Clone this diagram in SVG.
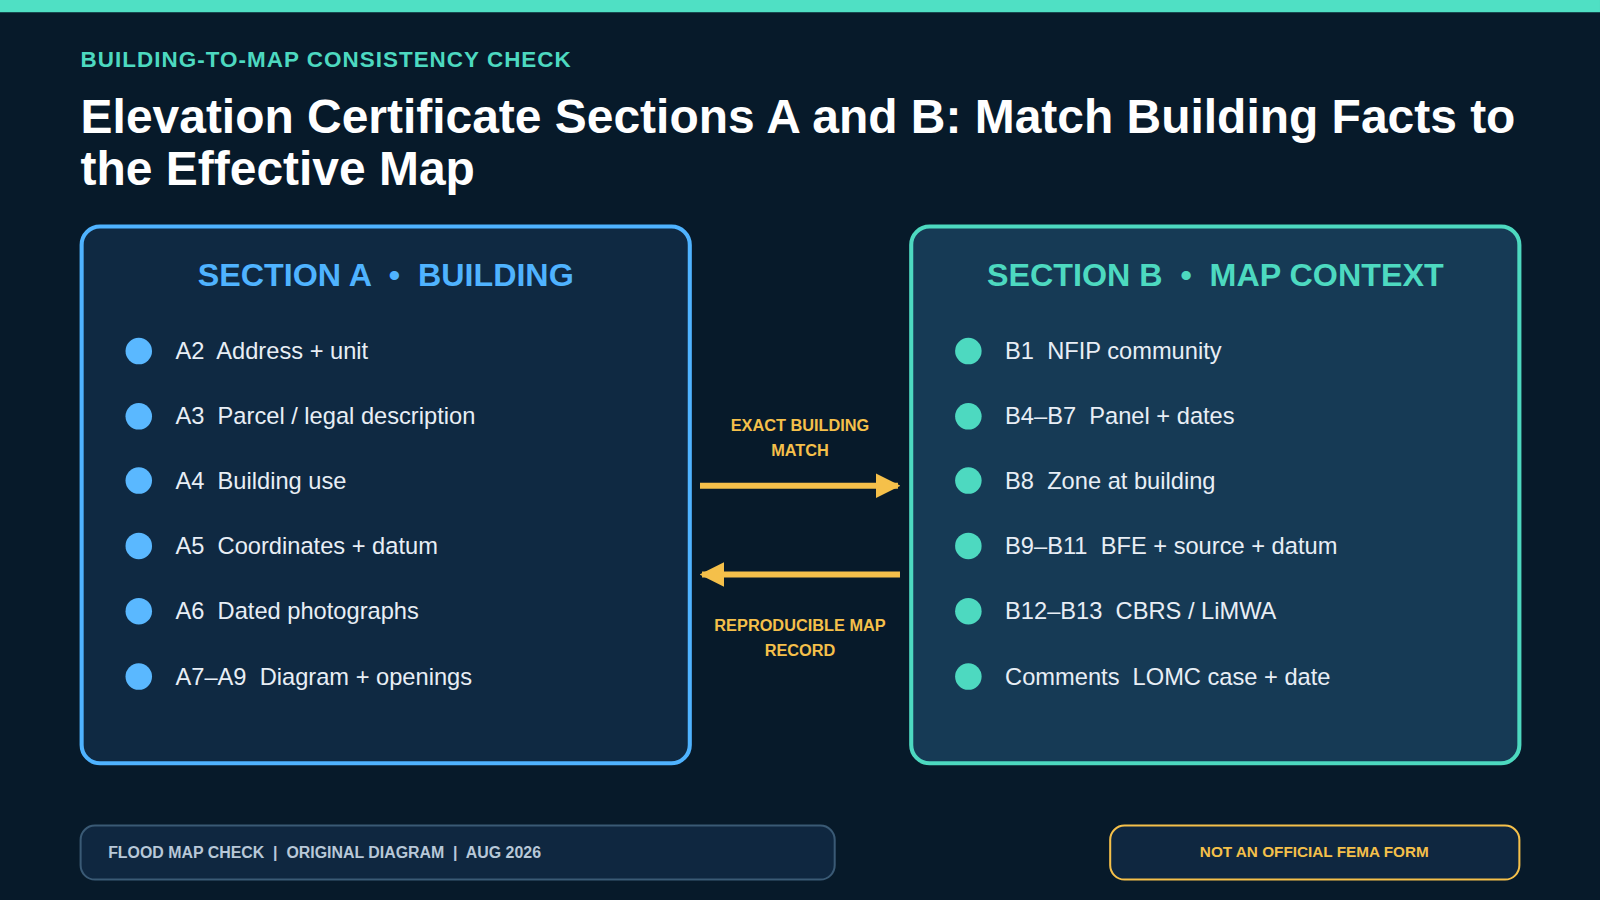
<svg xmlns="http://www.w3.org/2000/svg" width="1600" height="900" viewBox="0 0 1600 900">
<defs>
<style>
text{font-family:"Liberation Sans",Arial,sans-serif;white-space:pre}
.item{font-size:23.2px;fill:#e8eef5}
.hdr{font-size:31.6px;font-weight:bold}
.lbl{font-size:16px;font-weight:bold;fill:#f5c04a}
.foot{font-size:15.6px;font-weight:bold}
</style>
<marker id="ah" viewBox="0 0 10 10" refX="9" refY="5" markerWidth="4" markerHeight="4" orient="auto-start-reverse"><path d="M0,0 L10,5 L0,10 Z" fill="#f5c04a"/></marker>
</defs>
<rect width="1600" height="900" fill="#071a2a"/>
<g transform="scale(1.0204)" xml:space="preserve">
<rect x="0" y="0" width="1568" height="12" fill="#4fe0c4"/>
<text x="79" y="66" font-size="22" font-weight="bold" fill="#4dd9c0" letter-spacing="1">BUILDING-TO-MAP CONSISTENCY CHECK</text>
<text x="79" y="130" font-size="47" font-weight="bold" fill="#ffffff">Elevation Certificate Sections A and B: Match Building Facts to</text>
<text x="79" y="181" font-size="47" font-weight="bold" fill="#ffffff">the Effective Map</text>
<g id="sectionA">
<rect x="80" y="222" width="596" height="526" rx="18" fill="#0f2942" stroke="#4fb3ff" stroke-width="4"/>
<text x="378" y="280" text-anchor="middle" class="hdr" fill="#4fb3ff">SECTION A  •  BUILDING</text>
<g fill="#5ab8ff"><circle cx="136" cy="344" r="13"/><circle cx="136" cy="408" r="13"/><circle cx="136" cy="471" r="13"/><circle cx="136" cy="535" r="13"/><circle cx="136" cy="599" r="13"/><circle cx="136" cy="663" r="13"/></g>
<text x="172" y="352" class="item">A2  Address + unit</text>
<text x="172" y="416" class="item">A3  Parcel / legal description</text>
<text x="172" y="479" class="item">A4  Building use</text>
<text x="172" y="543" class="item">A5  Coordinates + datum</text>
<text x="172" y="607" class="item">A6  Dated photographs</text>
<text x="172" y="671" class="item">A7–A9  Diagram + openings</text>
</g>
<g id="sectionB">
<rect x="893" y="222" width="596" height="526" rx="18" fill="#163a55" stroke="#4dd9c0" stroke-width="4"/>
<text x="1191" y="280" text-anchor="middle" class="hdr" fill="#4dd9c0">SECTION B  •  MAP CONTEXT</text>
<g fill="#4dd9c0"><circle cx="949" cy="344" r="13"/><circle cx="949" cy="408" r="13"/><circle cx="949" cy="471" r="13"/><circle cx="949" cy="535" r="13"/><circle cx="949" cy="599" r="13"/><circle cx="949" cy="663" r="13"/></g>
<text x="985" y="352" class="item">B1  NFIP community</text>
<text x="985" y="416" class="item">B4–B7  Panel + dates</text>
<text x="985" y="479" class="item">B8  Zone at building</text>
<text x="985" y="543" class="item">B9–B11  BFE + source + datum</text>
<text x="985" y="607" class="item">B12–B13  CBRS / LiMWA</text>
<text x="985" y="671" class="item">Comments  LOMC case + date</text>
</g>
<g id="connectors" stroke="#f5c04a" stroke-width="6" fill="none">
<line x1="686" y1="476" x2="880" y2="476" marker-end="url(#ah)"/>
<line x1="882" y1="563" x2="688" y2="563" marker-end="url(#ah)"/>
</g>
<text x="784" y="422" text-anchor="middle" class="lbl">EXACT BUILDING</text>
<text x="784" y="447" text-anchor="middle" class="lbl">MATCH</text>
<text x="784" y="618" text-anchor="middle" class="lbl">REPRODUCIBLE MAP</text>
<text x="784" y="643" text-anchor="middle" class="lbl">RECORD</text>
<g id="footerLeft">
<rect x="79" y="809" width="739" height="53" rx="14" fill="#0f2740" stroke="#3a5a75" stroke-width="2"/>
<text x="106" y="841" class="foot" fill="#b8c8d8">FLOOD MAP CHECK  |  ORIGINAL DIAGRAM  |  AUG 2026</text>
</g>
<g id="footerRight">
<rect x="1088" y="809" width="401" height="53" rx="14" fill="#0f2740" stroke="#f5c04a" stroke-width="2"/>
<text x="1288" y="840" text-anchor="middle" class="foot" font-size="15" style="font-size:15px" fill="#f5c04a">NOT AN OFFICIAL FEMA FORM</text>
</g>
</g>
</svg>
